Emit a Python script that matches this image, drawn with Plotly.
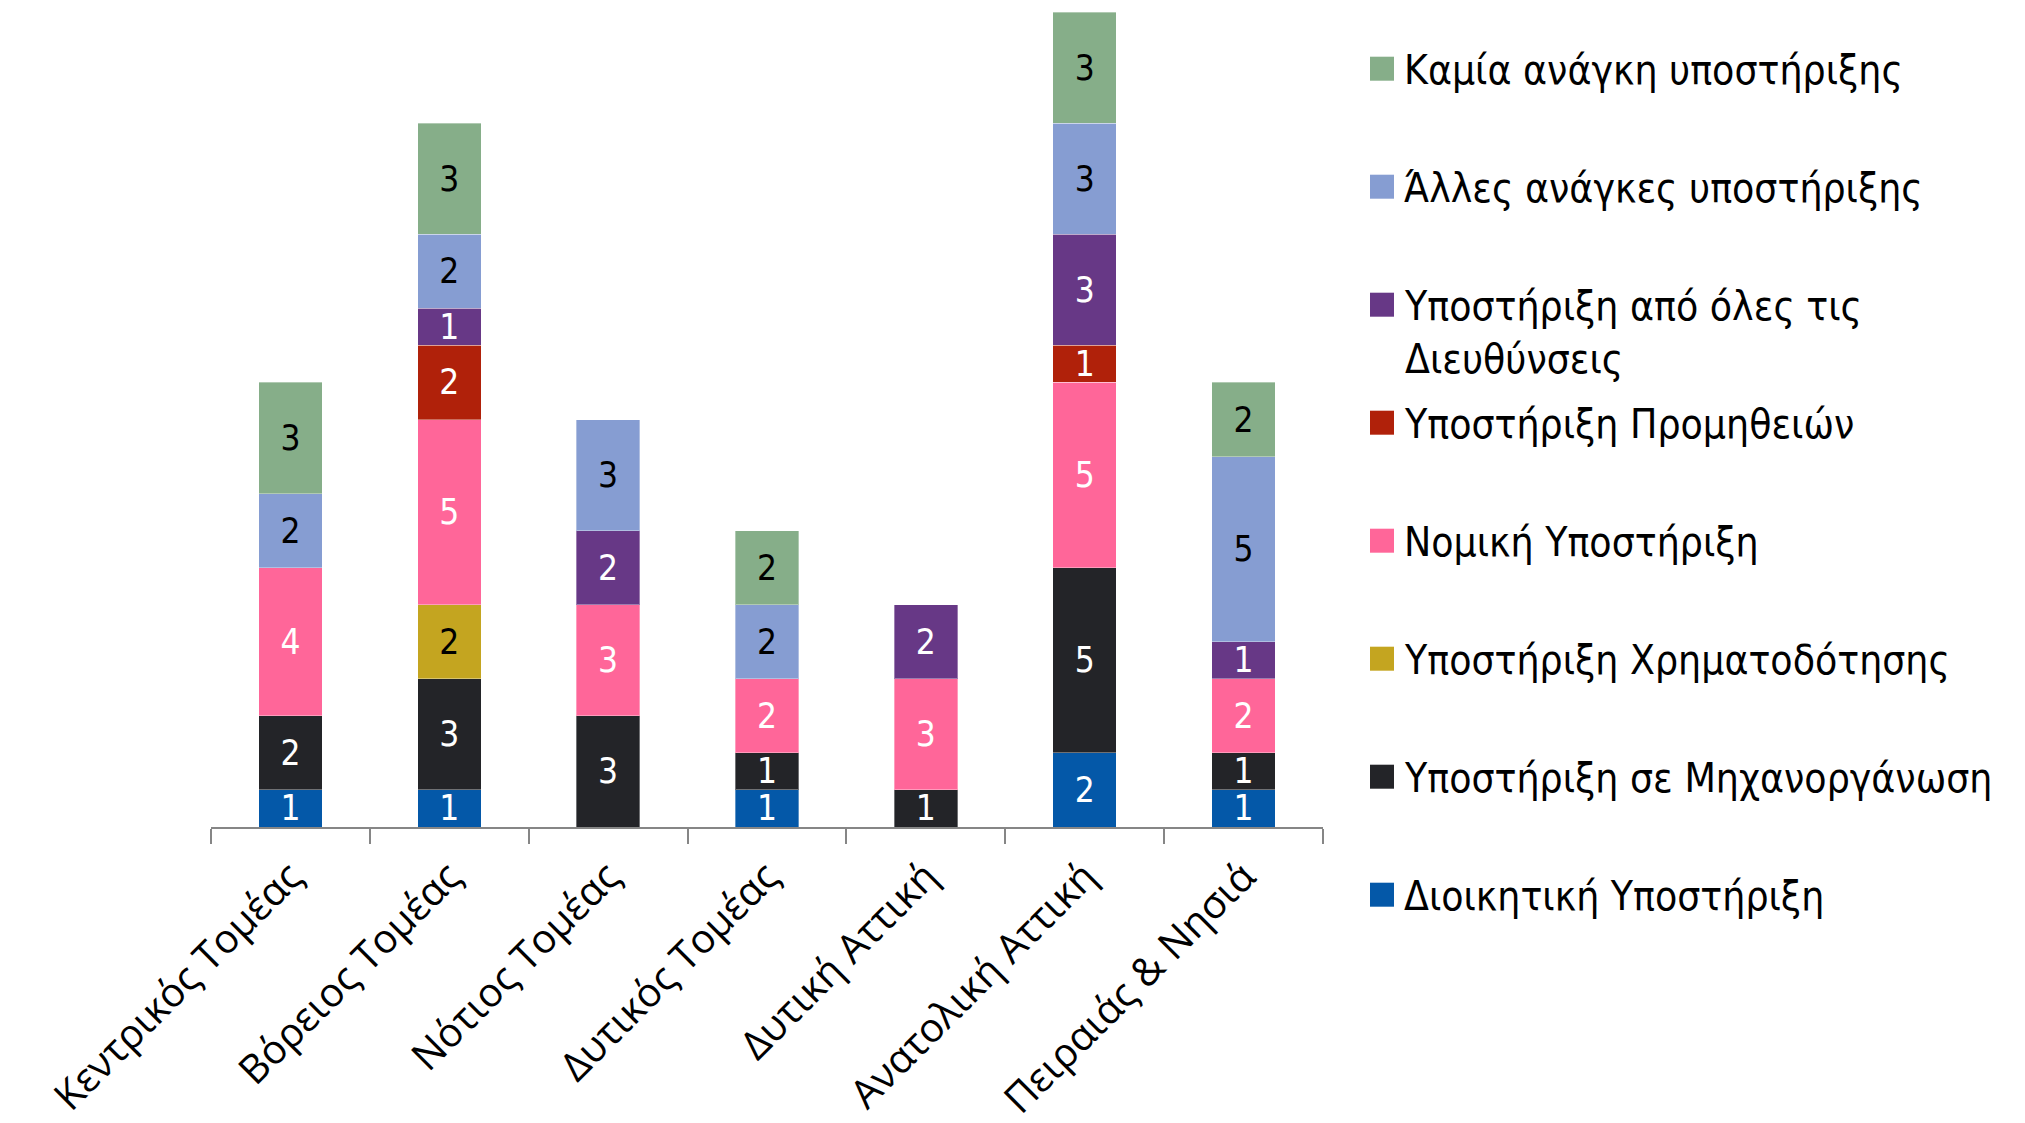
import textwrap
import plotly.graph_objects as go

# ---------------- data ----------------
categories = ["Κεντρικός Τομέας", "Βόρειος Τομέας", "Νότιος Τομέας", "Δυτικός Τομέας",
              "Δυτική Αττική", "Ανατολική Αττική", "Πειραιάς & Νησιά"]

dioikitiki = [1, 1, 0, 1, 0, 2, 1]          # Διοικητική Υποστήριξη
michanorganosi = [2, 3, 3, 1, 1, 5, 1]      # Υποστήριξη σε Μηχανοργάνωση
chrimatodotisi = [0, 2, 0, 0, 0, 0, 0]      # Υποστήριξη Χρηματοδότησης
nomiki = [4, 5, 3, 2, 3, 5, 2]              # Νομική Υποστήριξη
promitheies = [0, 2, 0, 0, 0, 1, 0]         # Υποστήριξη Προμηθειών
oles_dieuthynseis = [0, 1, 2, 0, 2, 3, 1]   # Υποστήριξη από όλες τις Διευθύνσεις
alles_anagkes = [2, 2, 3, 2, 0, 3, 5]       # Άλλες ανάγκες υποστήριξης
kamia_anagki = [3, 3, 0, 2, 0, 3, 2]        # Καμία ανάγκη υποστήριξης

series_names = ["Διοικητική Υποστήριξη", "Υποστήριξη σε Μηχανοργάνωση",
                "Υποστήριξη Χρηματοδότησης", "Νομική Υποστήριξη",
                "Υποστήριξη Προμηθειών", "Υποστήριξη από όλες τις Διευθύνσεις",
                "Άλλες ανάγκες υποστήριξης", "Καμία ανάγκη υποστήριξης"]
series_values = [dioikitiki, michanorganosi, chrimatodotisi, nomiki,
                 promitheies, oles_dieuthynseis, alles_anagkes, kamia_anagki]

# ---------------- styles ----------------
colors = ["#0458A8", "#232428", "#C4A520", "#FF6699",
          "#B0210A", "#673886", "#869DD2", "#86AE89"]
label_colors = ["white", "white", "black", "white",
                "white", "white", "black", "black"]

# page is 2025x1123; the html body adds an 8px margin, so the figure is 8px smaller
OFF = 8
W, H = 2025 - OFF, 1123 - OFF
# target plot-area edges in page pixels
PLOT_LEFT, PLOT_RIGHT, PLOT_TOP, PLOT_BOTTOM = 211, 1323, 12, 827
ML = PLOT_LEFT - OFF
MT = PLOT_TOP - OFF
MR = W - (PLOT_RIGHT - OFF)
MB = H - (PLOT_BOTTOM - OFF)
PW, PH = W - ML - MR, H - MT - MB

LEGEND_FONT = "DejaVu Sans Condensed, DejaVu Sans, sans-serif"
LABEL_FONT = "DejaVu Sans Condensed, DejaVu Sans, sans-serif"
AXIS_FONT = "Open Sans, Noto Sans, sans-serif"


def px_x(page_px):
    return (page_px - PLOT_LEFT) / PW


def px_y(page_py):
    return (PLOT_BOTTOM - page_py) / PH


fig = go.Figure()
for name, vals, col, lcol in zip(series_names, series_values, colors, label_colors):
    fig.add_trace(go.Bar(
        name=name,
        x=categories,
        y=vals,
        text=[str(v) if v else "" for v in vals],
        textposition="inside",
        insidetextanchor="middle",
        textangle=0,
        constraintext="none",
        textfont=dict(family=LABEL_FONT, size=35, color=lcol),
        marker=dict(color=col, line=dict(color="rgba(255,255,255,0.35)", width=1)),
        showlegend=False,
        hoverinfo="x+y+name",
    ))

# legend (drawn manually: listed top-down in reverse stacking order)
shapes = []
annotations = []
first_center, step = 68.7, 118.0
for i, (name, col) in enumerate(zip(series_names[::-1], colors[::-1])):
    cy = first_center + step * i
    shapes.append(dict(type="rect", xref="paper", yref="paper",
                       x0=px_x(1370), x1=px_x(1394),
                       y0=px_y(cy + 12), y1=px_y(cy - 12),
                       fillcolor=col, line=dict(width=0)))
    label = "<br>".join(textwrap.wrap(name, 30))
    annotations.append(dict(xref="paper", yref="paper",
                            x=px_x(1403), y=px_y(cy - 24),
                            xanchor="left", yanchor="top", align="left",
                            showarrow=False, borderpad=0, text=label,
                            font=dict(family=LEGEND_FONT, size=40.5, color="black")))

fig.update_layout(
    width=W, height=H,
    margin=dict(l=ML, r=MR, t=MT, b=MB, autoexpand=False),
    barmode="stack",
    bargap=0.6,
    paper_bgcolor="white",
    plot_bgcolor="white",
    showlegend=False,
    shapes=shapes,
    annotations=annotations,
    xaxis=dict(
        type="category",
        showline=True, linecolor="#868686", linewidth=2,
        ticks="outside", tickson="boundaries", ticklen=15, tickwidth=2,
        tickcolor="#868686",
        tickangle=-45,
        ticklabelstandoff=8,
        tickfont=dict(family=AXIS_FONT, size=40, color="black"),
        showgrid=False, zeroline=False,
    ),
    yaxis=dict(range=[0, 22], visible=False, showgrid=False, zeroline=False),
)

fig.write_html("out.html")
